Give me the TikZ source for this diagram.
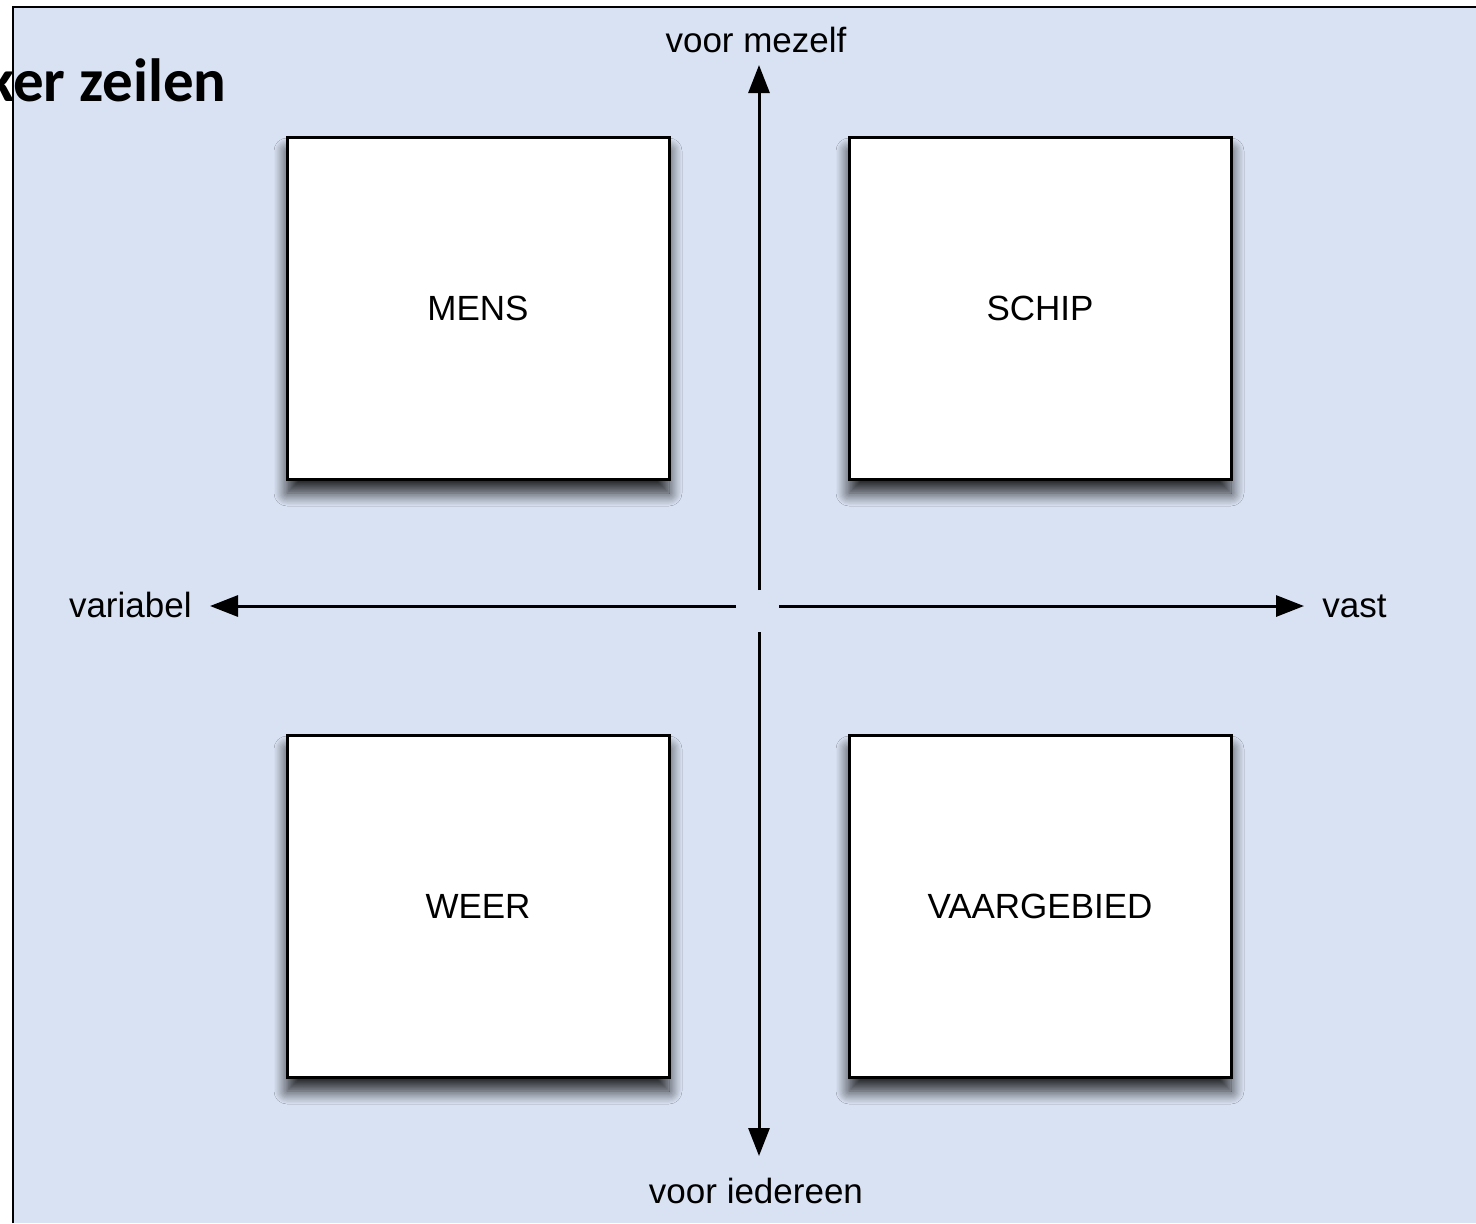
\documentclass[tikz,border=0pt]{standalone}
\usepackage{fontspec}
\setmainfont{Liberation Sans}
\newfontfamily\titlefont{Carlito}
\usetikzlibrary{arrows.meta,shadows.blur,positioning}
\definecolor{paneblue}{HTML}{D9E2F2}

\tikzset{
  quadrant/.style={draw=black,line width=1.5pt,fill=white,minimum width=191pt,minimum height=171pt,
    font=\fontsize{17.5}{20}\selectfont,
    blur shadow={shadow xshift=0pt,shadow yshift=-7pt,shadow blur radius=6.5pt,shadow opacity=85,shadow blur steps=12}},
  axislabel/.style={inner sep=0pt,font=\fontsize{17.5}{20}\selectfont},
  axis/.style={line width=1.5pt,-{Triangle[length=14pt,width=10.5pt]}}
}

\begin{document}
\begin{tikzpicture}[x=0.5pt,y=-0.5pt]
  \useasboundingbox (0,0) rectangle (1476,1223);
  % pane
  \fill[paneblue] (13,7) rectangle (1476,1223);
  \draw[line width=1pt] (13,1223) -- (13,7) -- (1476,7);

  % title
  \node[anchor=base east,inner sep=0pt,font=\titlefont\fontsize{30.5}{34}\selectfont\bfseries] (title) at (227,101) {ker zeilen};

  % four quadrants
  \node[quadrant] (mens) at (478,308) {MENS};
  \node[quadrant] (schip) at (1040,308) {SCHIP};
  \node[quadrant] (weer) at (478,906) {WEER};
  \node[quadrant] (gebied) at (1040,906) {VAARGEBIED};

  % axis labels
  \node[axislabel,anchor=base east] (variabel) at (192,617) {variabel};
  \node[axislabel,anchor=base west] (vast) at (1322,617) {vast};
  \node[axislabel,anchor=base] (mezelf) at (756,52) {voor mezelf};
  \node[axislabel,anchor=base] (iedereen) at (756,1203) {voor iedereen};

  % axes, split around the centre
  \coordinate (up) at (759,590);
  \coordinate (down) at (759,632);
  \coordinate (left) at (736,606);
  \coordinate (right) at (779,606);
  \coordinate (uptip) at (759,65);
  \coordinate (downtip) at (759,1156);
  \coordinate (lefttip) at (210,606);
  \coordinate (righttip) at (1304,606);
  \draw[axis] (up) -- (uptip);
  \draw[axis] (down) -- (downtip);
  \draw[axis] (left) -- (lefttip);
  \draw[axis] (right) -- (righttip);
\end{tikzpicture}
\end{document}
